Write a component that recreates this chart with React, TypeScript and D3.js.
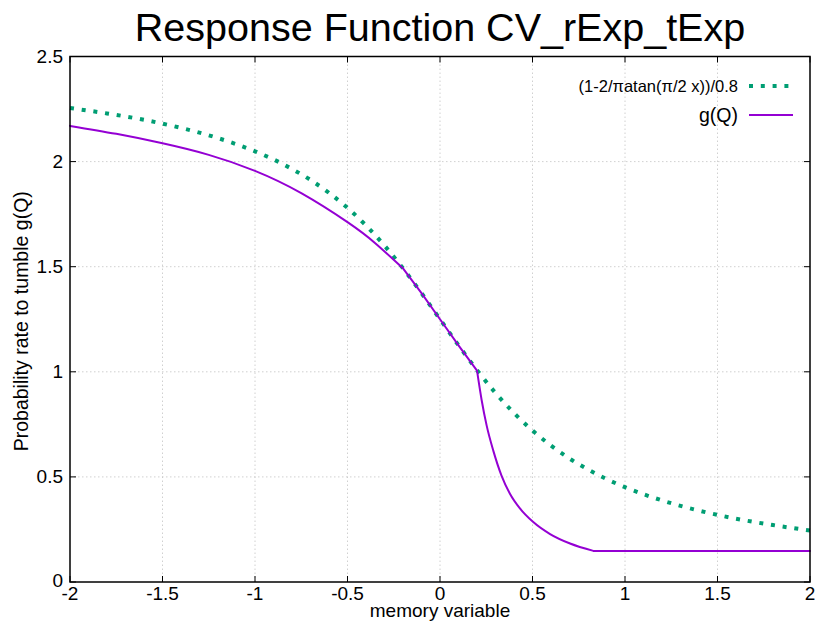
import React from "react";
import * as d3 from "d3";

const fX = [-2, -1.8, -1.6, -1.4, -1.2, -1, -0.9, -0.8, -0.7, -0.6, -0.5, -0.4, -0.3, -0.2, -0.1, 0, 0.1, 0.2, 0.3, 0.4, 0.5, 0.6, 0.7, 0.8, 0.9, 1, 1.2, 1.4, 1.6, 1.8, 2];
const fY = [2.2548, 2.2292, 2.1987, 2.1604, 2.1118, 2.0489, 2.0103, 1.9648, 1.9128, 1.8512, 1.7798, 1.6962, 1.6004, 1.4922, 1.374, 1.25, 1.126, 1.0078, 0.8996, 0.8038, 0.7202, 0.6488, 0.5872, 0.5352, 0.4897, 0.4511, 0.3882, 0.3396, 0.3013, 0.2708, 0.2452];

const gX = [-2, -1.75, -1.5, -1.25, -1, -0.75, -0.5, -0.35, -0.2, -0.1, 0, 0.1, 0.2, 0.225, 0.252, 0.288, 0.333, 0.378, 0.432, 0.504, 0.595, 0.703, 0.829, 1, 1.5, 2];
const gY = [2.17, 2.132, 2.087, 2.032, 1.956, 1.85, 1.712, 1.612, 1.492, 1.374, 1.25, 1.126, 1.006, 0.866, 0.745, 0.625, 0.505, 0.42, 0.35, 0.285, 0.228, 0.183, 0.148, 0.148, 0.148, 0.148];
// x positions where g(Q) changes behaviour (kinks)
const gKinks = [-0.2, 0.2, 0.829];

const xTicks = [-2, -1.5, -1, -0.5, 0, 0.5, 1, 1.5, 2];
const xTickLabels = ["-2", "-1.5", "-1", "-0.5", "0", "0.5", "1", "1.5", "2"];
const yTicks = [0, 0.5, 1, 1.5, 2, 2.5];
const yTickLabels = ["0", "0.5", "1", "1.5", "2", "2.5"];

const title = "Response Function CV_rExp_tExp";
const xLabel = "memory variable";
const yLabel = "Probability rate to tumble g(Q)";
const legendF = "(1-2/πatan(π/2 x))/0.8";
const legendG = "g(Q)";

export default function App() {
  const W = 815, H = 626;
  const L = 70, R = 810, T = 56.5, B = 582;
  const x = d3.scaleLinear().domain([-2, 2]).range([L, R]);
  const y = d3.scaleLinear().domain([0, 2.5]).range([B, T]);
  const font = "'Liberation Sans', Arial, sans-serif";

  const fLine = d3.line<number>().x((_, i) => x(fX[i])).y((d) => y(d)).curve(d3.curveMonotoneX)(fY) || "";

  const pts: [number, number][] = gX.map((v, i) => [v, gY[i]]);
  const seg = (lo: number, hi: number) => pts.filter((p) => p[0] >= lo - 1e-9 && p[0] <= hi + 1e-9);
  const mk = (c: any) => d3.line<[number, number]>().x((p) => x(p[0])).y((p) => y(p[1])).curve(c);
  const gPath =
    (mk(d3.curveNatural)(seg(-2, gKinks[0])) || "") +
    (mk(d3.curveLinear)(seg(gKinks[0], gKinks[1])) || "") +
    (mk(d3.curveMonotoneX)(seg(gKinks[1], gKinks[2])) || "") +
    (mk(d3.curveLinear)(seg(gKinks[2], 2)) || "");

  const green = "#009e73";
  const purple = "#9400d3";

  return (
    <svg width={W} height={H} style={{ position: "absolute", left: 0, top: 0, background: "#fff" }} fontFamily={font}>
      <rect x={0} y={0} width={W} height={H} fill="#fff" />
      {xTicks.slice(1, -1).map((t) => (
        <line key={"gx" + t} x1={x(t)} x2={x(t)} y1={B} y2={T} stroke="#c4c4c4" strokeWidth={0.8} strokeDasharray="1.5,2.5" />
      ))}
      {yTicks.slice(1, -1).map((t) => (
        <line key={"gy" + t} x1={L} x2={R} y1={y(t)} y2={y(t)} stroke="#c4c4c4" strokeWidth={0.8} strokeDasharray="1.5,2.5" />
      ))}
      {xTicks.map((t) => (
        <g key={"tx" + t}>
          <line x1={x(t)} x2={x(t)} y1={B} y2={B - 6} stroke="#000" strokeWidth={1} />
          <line x1={x(t)} x2={x(t)} y1={T} y2={T + 6} stroke="#000" strokeWidth={1} />
        </g>
      ))}
      {yTicks.map((t) => (
        <g key={"ty" + t}>
          <line x1={L} x2={L + 6} y1={y(t)} y2={y(t)} stroke="#000" strokeWidth={1} />
          <line x1={R} x2={R - 6} y1={y(t)} y2={y(t)} stroke="#000" strokeWidth={1} />
        </g>
      ))}
      <path d={fLine} fill="none" stroke={green} strokeWidth={4} strokeDasharray="4,7.8" />
      <path d={gPath} fill="none" stroke={purple} strokeWidth={2} strokeLinejoin="round" strokeLinecap="round" />
      <rect x={L} y={T} width={R - L} height={B - T} fill="none" stroke="#000" strokeWidth={1.5} />
      {xTicks.map((t, i) => (
        <text key={"lx" + t} x={x(t)} y={600} textAnchor="middle" fontSize={19} fill="#000">{xTickLabels[i]}</text>
      ))}
      {yTicks.map((t, i) => (
        <text key={"ly" + t} x={63} y={y(t) + 6.5 - (t === 0 ? 2 : 0)} textAnchor="end" fontSize={19} fill="#000">{yTickLabels[i]}</text>
      ))}
      <text x={440} y={41} textAnchor="middle" fontSize={39.5} fill="#000">{title}</text>
      <text x={440} y={616.5} textAnchor="middle" fontSize={19} fill="#000">{xLabel}</text>
      <text transform={`translate(28,${(T + B) / 2 + 2}) rotate(-90)`} textAnchor="middle" fontSize={19.5} fill="#000">{yLabel}</text>
      <text x={738} y={92} textAnchor="end" fontSize={16.5} fill="#000">{legendF}</text>
      <line x1={749} x2={793} y1={86} y2={86} stroke={green} strokeWidth={4} strokeDasharray="4,7.8" />
      <text x={738} y={122} textAnchor="end" fontSize={19.5} fill="#000">{legendG}</text>
      <line x1={749} x2={793} y1={115} y2={115} stroke={purple} strokeWidth={2} />
    </svg>
  );
}
